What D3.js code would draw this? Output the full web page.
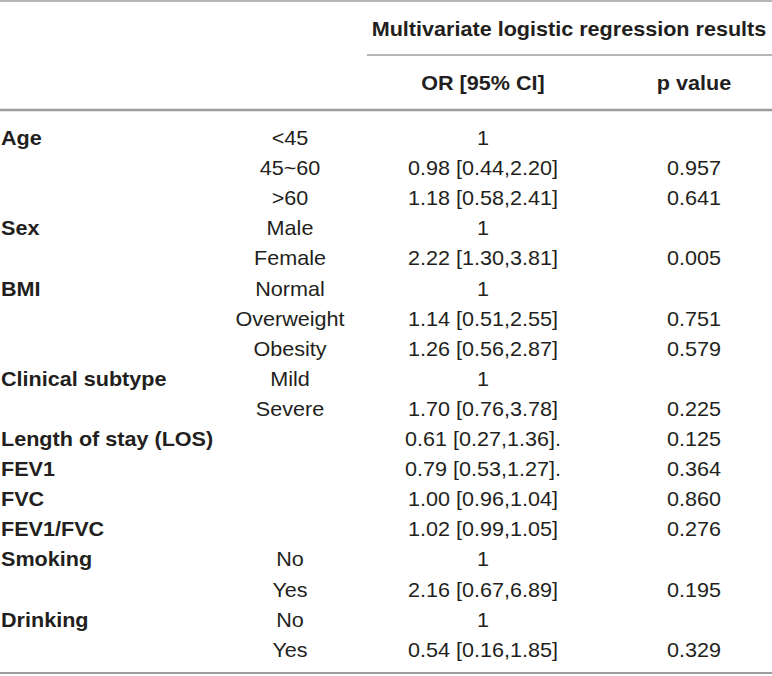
<!DOCTYPE html>
<html>
<head>
<meta charset="utf-8">
<script src="https://cdn.jsdelivr.net/npm/d3@7"></script>
<style>
  html, body { margin: 0; padding: 0; background: #fff; }
  svg { display: block; }
  text { font-family: "Liberation Sans", Arial, Helvetica, sans-serif; fill: #231f20; }
</style>
</head>
<body>
<svg id="chart" width="772" height="676"></svg>
<script>
// ---- data ----
const headerTitle = "Multivariate logistic regression results";
const columnHeaders = ["OR [95% CI]", "p value"];
const rowVariable = ["Age", "", "", "Sex", "", "BMI", "", "", "Clinical subtype", "",
  "Length of stay (LOS)", "FEV1", "FVC", "FEV1/FVC", "Smoking", "", "Drinking", ""];
const rowLevel = ["<45", "45~60", ">60", "Male", "Female", "Normal", "Overweight", "Obesity", "Mild", "Severe",
  "", "", "", "", "No", "Yes", "No", "Yes"];
const orValue = [1, 0.98, 1.18, 1, 2.22, 1, 1.14, 1.26, 1, 1.70, 0.61, 0.79, 1.00, 1.02, 1, 2.16, 1, 0.54];
const ciLower = [null, 0.44, 0.58, null, 1.30, null, 0.51, 0.56, null, 0.76, 0.27, 0.53, 0.96, 0.99, null, 0.67, null, 0.16];
const ciUpper = [null, 2.20, 2.41, null, 3.81, null, 2.55, 2.87, null, 3.78, 1.36, 1.27, 1.04, 1.05, null, 6.89, null, 1.85];
const pValue = [null, 0.957, 0.641, null, 0.005, null, 0.751, 0.579, null, 0.225, 0.125, 0.364, 0.860, 0.276, null, 0.195, null, 0.329];
const trailingDot = [false, false, false, false, false, false, false, false, false, false, true, true, false, false, false, false, false, false];

// ---- layout ----
const W = 772;
const svg = d3.select("#chart");
const fs = 20, sx = 1.08;
const f2 = d3.format(".2f"), f3 = d3.format(".3f");

const rows = rowLevel.map((lvl, i) => ({
  variable: rowVariable[i],
  level: lvl,
  or: ciLower[i] == null ? String(orValue[i]) :
      `${f2(orValue[i])} [${f2(ciLower[i])},${f2(ciUpper[i])}]${trailingDot[i] ? "." : ""}`,
  p: pValue[i] == null ? "" : f3(pValue[i])
}));

const y = d3.scalePoint().domain(d3.range(rows.length)).range([145, 145 + 30.1 * (rows.length - 1)]);
const colX = d3.scaleOrdinal().domain(["variable", "level", "or", "p"]).range([1, 290, 483, 694]);

function addText(g, x, yy, str, anchor, bold) {
  g.append("text")
    .attr("transform", `translate(${x},${yy}) scale(${sx},1)`)
    .attr("text-anchor", anchor)
    .attr("font-size", fs)
    .attr("font-weight", bold ? "bold" : "normal")
    .text(str);
}

// rules
const lineColor = "#9d9d9d";
svg.append("line").attr("x1", 0).attr("x2", W).attr("y1", 1).attr("y2", 1)
  .attr("stroke", lineColor).attr("stroke-width", 1.6);
svg.append("line").attr("x1", 367).attr("x2", W).attr("y1", 55).attr("y2", 55)
  .attr("stroke", lineColor).attr("stroke-width", 1.4);
svg.append("line").attr("x1", 0).attr("x2", W).attr("y1", 110).attr("y2", 110)
  .attr("stroke", lineColor).attr("stroke-width", 2.6);
svg.append("line").attr("x1", 0).attr("x2", W).attr("y1", 673).attr("y2", 673)
  .attr("stroke", lineColor).attr("stroke-width", 2);

// header
const hg = svg.append("g");
addText(hg, 569, 36, headerTitle, "middle", true);
addText(hg, colX("or"), 90, columnHeaders[0], "middle", true);
addText(hg, colX("p"), 90, columnHeaders[1], "middle", true);

// body
const bg = svg.append("g");
rows.forEach((r, i) => {
  if (r.variable) addText(bg, colX("variable"), y(i), r.variable, "start", true);
  if (r.level) addText(bg, colX("level"), y(i), r.level, "middle", false);
  addText(bg, colX("or"), y(i), r.or, "middle", false);
  if (r.p) addText(bg, colX("p"), y(i), r.p, "middle", false);
});
</script>
</body>
</html>
